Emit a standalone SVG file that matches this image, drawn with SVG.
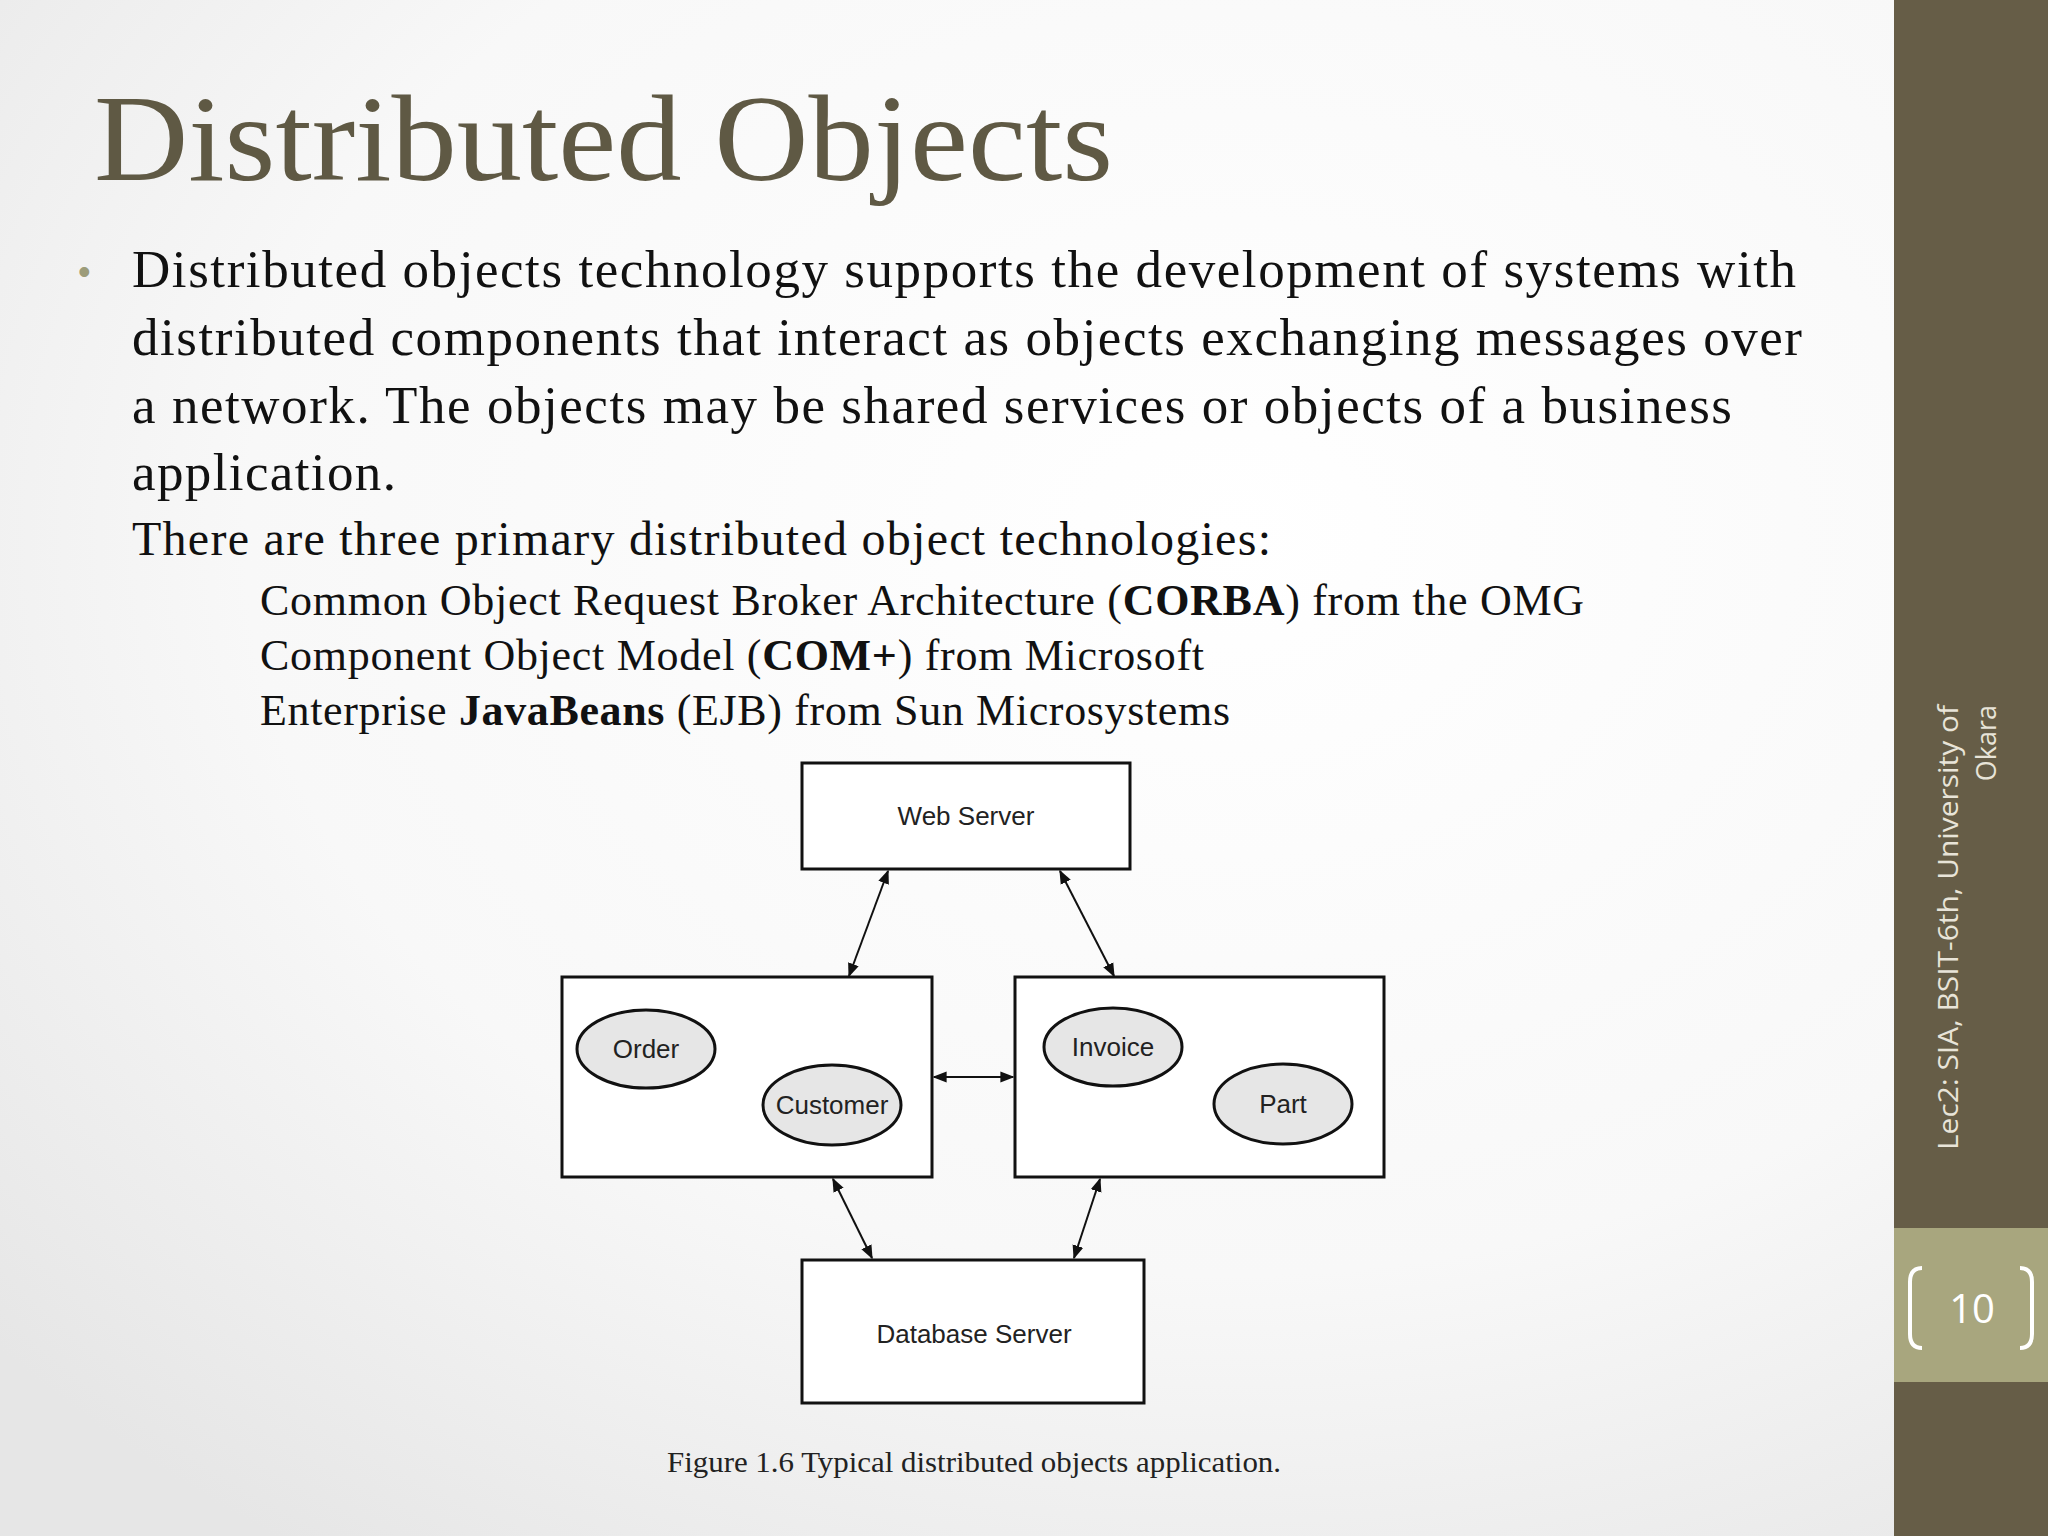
<svg xmlns="http://www.w3.org/2000/svg" width="2048" height="1536" viewBox="0 0 2048 1536">
<defs>
<radialGradient id="bg" cx="0.6" cy="0.35" r="0.8">
<stop offset="0" stop-color="#ffffff"/><stop offset="0.6" stop-color="#f8f8f8"/><stop offset="1" stop-color="#e6e6e6"/>
</radialGradient>
<marker id="ah" viewBox="0 0 10 10" refX="9" refY="5" markerWidth="7" markerHeight="7" orient="auto-start-reverse" markerUnits="strokeWidth"><path d="M0,1 L10,5 L0,9 z" fill="#111"/></marker>
<style>
.body{font-family:"Liberation Serif",serif;fill:#111;}
.box{fill:#fff;stroke:#111;stroke-width:3;}
.ell{fill:#e6e6e6;stroke:#111;stroke-width:3;}
.lbl{font-family:"Liberation Sans",Arial,sans-serif;font-size:26px;fill:#222;text-anchor:middle;}
.con{stroke:#111;stroke-width:2;fill:none;marker-start:url(#ah);marker-end:url(#ah);}
</style>
</defs>
<rect width="2048" height="1536" fill="url(#bg)"/>
<text x="94" y="180" font-family="Liberation Serif,serif" font-size="122" fill="#5f5944" textLength="1019" lengthAdjust="spacingAndGlyphs">Distributed Objects</text>
<text x="78" y="284" font-family="Liberation Sans,sans-serif" font-size="36" fill="#9c9c7a">•</text>
<g class="body" font-size="53" lengthAdjust="spacingAndGlyphs">
<text x="132" y="287" textLength="1664">Distributed objects technology supports the development of systems with</text>
<text x="132" y="355" textLength="1670">distributed components that interact as objects exchanging messages over</text>
<text x="132" y="423" textLength="1600">a network. The objects may be shared services or objects of a business</text>
<text x="132" y="490" textLength="264">application.</text>
<text x="132" y="555" font-size="48" textLength="1139">There are three primary distributed object technologies:</text>
</g>
<g class="body" font-size="44" lengthAdjust="spacingAndGlyphs">
<text x="260" y="615" textLength="1324">Common Object Request Broker Architecture (<tspan font-weight="bold">CORBA</tspan>) from the OMG</text>
<text x="260" y="670" textLength="944">Component Object Model (<tspan font-weight="bold">COM+</tspan>) from Microsoft</text>
<text x="260" y="725" textLength="970">Enterprise <tspan font-weight="bold">JavaBeans</tspan> (EJB) from Sun Microsystems</text>
</g>
<g id="web"><rect class="box" x="802" y="763" width="328" height="106"/><text class="lbl" x="966" y="825">Web Server</text></g>
<g id="left"><rect class="box" x="562" y="977" width="370" height="200"/>
<g id="order"><ellipse class="ell" cx="646" cy="1049" rx="69" ry="39"/><text class="lbl" x="646" y="1058">Order</text></g>
<g id="customer"><ellipse class="ell" cx="832" cy="1105" rx="69" ry="40"/><text class="lbl" x="832" y="1114">Customer</text></g></g>
<g id="right"><rect class="box" x="1015" y="977" width="369" height="200"/>
<g id="invoice"><ellipse class="ell" cx="1113" cy="1047" rx="69" ry="39"/><text class="lbl" x="1113" y="1056">Invoice</text></g>
<g id="part"><ellipse class="ell" cx="1283" cy="1104" rx="69" ry="40"/><text class="lbl" x="1283" y="1113">Part</text></g></g>
<g id="db"><rect class="box" x="802" y="1260" width="342" height="143"/><text class="lbl" x="974" y="1343">Database Server</text></g>
<g id="connectors">
<line class="con" x1="888" y1="871" x2="849" y2="976"/>
<line class="con" x1="1060" y1="871" x2="1114" y2="976"/>
<line class="con" x1="934" y1="1077" x2="1013" y2="1077"/>
<line class="con" x1="833" y1="1179" x2="872" y2="1258"/>
<line class="con" x1="1100" y1="1179" x2="1074" y2="1258"/>
</g>
<text x="667" y="1472" font-family="Liberation Serif,serif" font-size="29" fill="#222" textLength="614" lengthAdjust="spacingAndGlyphs">Figure 1.6 Typical distributed objects application.</text>
<rect x="1894" y="0" width="154" height="1536" fill="#665d47"/>
<rect x="1894" y="1228" width="154" height="154" fill="#a8a67e"/>
<g font-family="Open Sans,sans-serif" font-size="27" fill="#e8e4d8" text-anchor="end">
<text transform="translate(1958,705) rotate(-90)" textLength="445" lengthAdjust="spacingAndGlyphs">Lec2: SIA, BSIT-6th, University of</text>
<text transform="translate(1996,705) rotate(-90)">Okara</text>
</g>
<path d="M1922,1268 Q1910,1268 1910,1282 L1910,1334 Q1910,1348 1922,1348" fill="none" stroke="#fff" stroke-width="4"/>
<path d="M2020,1268 Q2032,1268 2032,1282 L2032,1334 Q2032,1348 2020,1348" fill="none" stroke="#fff" stroke-width="4"/>
<text x="1972" y="1323" font-family="Open Sans,sans-serif" font-size="40" fill="#fff" text-anchor="middle">10</text>
</svg>
